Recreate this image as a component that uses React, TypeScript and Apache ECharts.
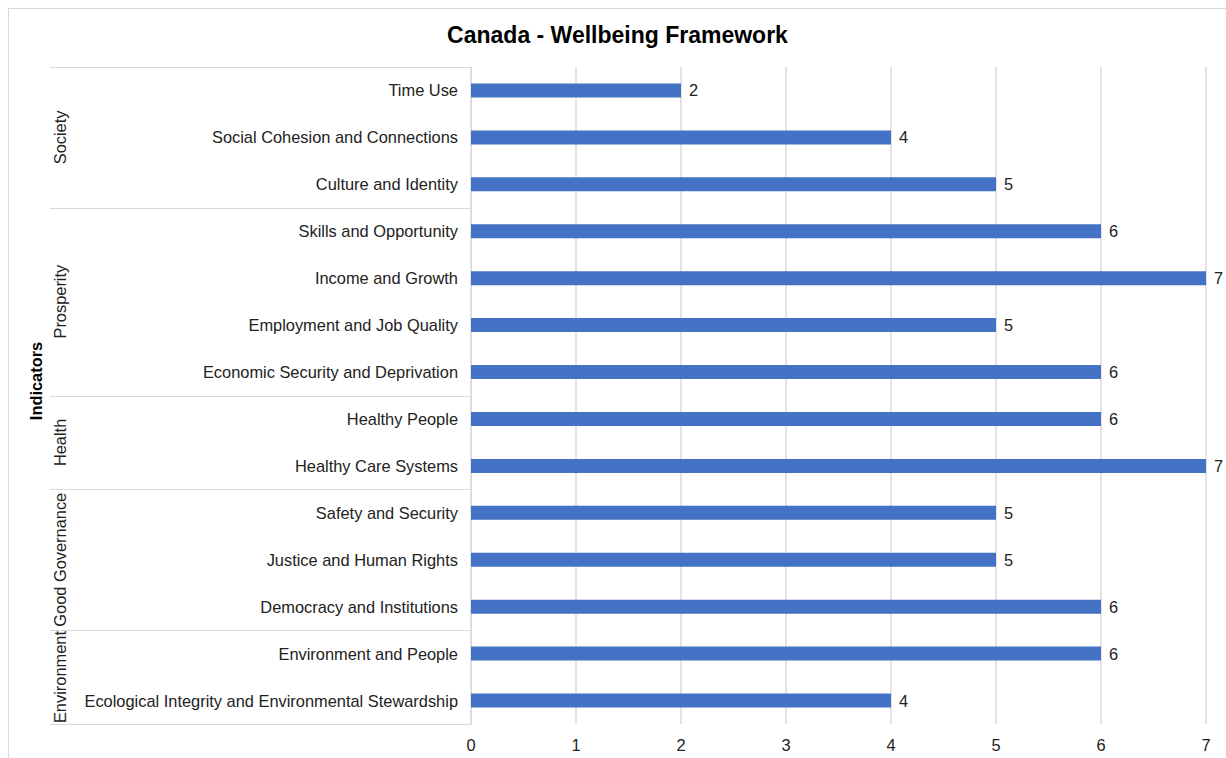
import React, { useEffect, useRef } from "react";
import * as echarts from "echarts";

const titleText = "Canada - Wellbeing Framework";
const axisTitle = "Indicators";
const categories = [
  "Time Use",
  "Social Cohesion and Connections",
  "Culture and Identity",
  "Skills and Opportunity",
  "Income and Growth",
  "Employment and Job Quality",
  "Economic Security and Deprivation",
  "Healthy People",
  "Healthy Care Systems",
  "Safety and Security",
  "Justice and Human Rights",
  "Democracy and Institutions",
  "Environment and People",
  "Ecological Integrity and Environmental Stewardship",
];
const values = [2, 4, 5, 6, 7, 5, 6, 6, 7, 5, 5, 6, 6, 4];
const groupNames = ["Society", "Prosperity", "Health", "Good Governance", "Environment"];
const groupSizes = [3, 4, 2, 3, 2];

const FONT = "Liberation Sans, Arial, Helvetica, sans-serif";
const LINE = "#d9d9d9";
const FS = 16.4;

export default function App() {
  const ref = useRef<HTMLDivElement>(null);
  useEffect(() => {
    document.documentElement.style.overflow = "hidden";
    if (!ref.current) return;
    const chart = echarts.init(ref.current, undefined, { renderer: "svg" });
    const gridLeft = 462;
    const gridTop = 58;
    chart.setOption({
      animation: false,
      textStyle: { fontFamily: FONT },
      title: {
        text: titleText,
        left: "center",
        top: 9,
        textStyle: { fontSize: 23, fontWeight: "bold", color: "#000", fontFamily: FONT },
      },
      grid: { left: gridLeft, right: 20, top: gridTop, bottom: 34, containLabel: false },
      xAxis: {
        type: "value",
        min: 0,
        max: 7,
        interval: 1,
        axisLine: { show: false },
        axisTick: { show: false },
        axisLabel: { fontSize: FS, color: "#222", margin: 13, fontFamily: FONT },
        splitLine: { show: true, lineStyle: { color: "#e3e3e3", width: 2 } },
      },
      yAxis: {
        type: "category",
        inverse: true,
        data: categories,
        axisLine: { show: true, lineStyle: { color: LINE, width: 1 } },
        axisTick: { show: false },
        axisLabel: { fontSize: FS, color: "#222", margin: 13, fontFamily: FONT },
      },
      series: [
        {
          type: "bar",
          data: values,
          barWidth: 14,
          itemStyle: { color: "#4472C4" },
          label: {
            show: true,
            position: "right",
            distance: 8,
            fontSize: FS,
            color: "#222",
            fontFamily: FONT,
          },
        },
      ],
    });

    // group separators and labels computed from axis positions
    const c0 = chart.convertToPixel({ yAxisIndex: 0 }, categories[0]) as number;
    const c1 = chart.convertToPixel({ yAxisIndex: 0 }, categories[1]) as number;
    const band = c1 - c0;
    const lineX1 = 41;
    const graphics: any[] = [];
    let idx = 0;
    const topY = c0 - band / 2;
    graphics.push({
      type: "line",
      shape: { x1: lineX1, y1: Math.round(topY) + 0.5, x2: gridLeft, y2: Math.round(topY) + 0.5 },
      style: { stroke: LINE, lineWidth: 1 },
      silent: true,
    });
    groupNames.forEach((name, g) => {
      const start = idx;
      const end = idx + groupSizes[g] - 1;
      const yStart = (chart.convertToPixel({ yAxisIndex: 0 }, categories[start]) as number) - band / 2;
      const yEnd = (chart.convertToPixel({ yAxisIndex: 0 }, categories[end]) as number) + band / 2;
      graphics.push({
        type: "line",
        shape: { x1: lineX1, y1: Math.round(yEnd) + 0.5, x2: gridLeft, y2: Math.round(yEnd) + 0.5 },
        style: { stroke: LINE, lineWidth: 1 },
        silent: true,
      });
      graphics.push({
        type: "text",
        x: 51,
        y: (yStart + yEnd) / 2,
        rotation: Math.PI / 2,
        style: {
          text: name,
          fontSize: FS,
          fill: "#222",
          fontFamily: FONT,
          align: "center",
          verticalAlign: "middle",
        },
        silent: true,
      });
      idx += groupSizes[g];
    });
    graphics.push({
      type: "text",
      x: 27,
      y: 372,
      rotation: Math.PI / 2,
      style: {
        text: axisTitle,
        fontSize: FS,
        fontWeight: "bold",
        fill: "#000",
        fontFamily: FONT,
        align: "center",
        verticalAlign: "middle",
      },
      silent: true,
    });
    chart.setOption({ graphic: graphics });

    return () => chart.dispose();
  }, []);
  return (
    <div
      style={{
        position: "fixed",
        left: 8,
        top: 8,
        width: 1217,
        height: 749,
        borderLeft: "1px solid #d9d9d9",
        borderTop: "1px solid #d9d9d9",
        background: "#fff",
        overflow: "visible",
      }}
    >
      <div ref={ref} style={{ width: 1217, height: 749, overflow: "visible" }} />
    </div>
  );
}
